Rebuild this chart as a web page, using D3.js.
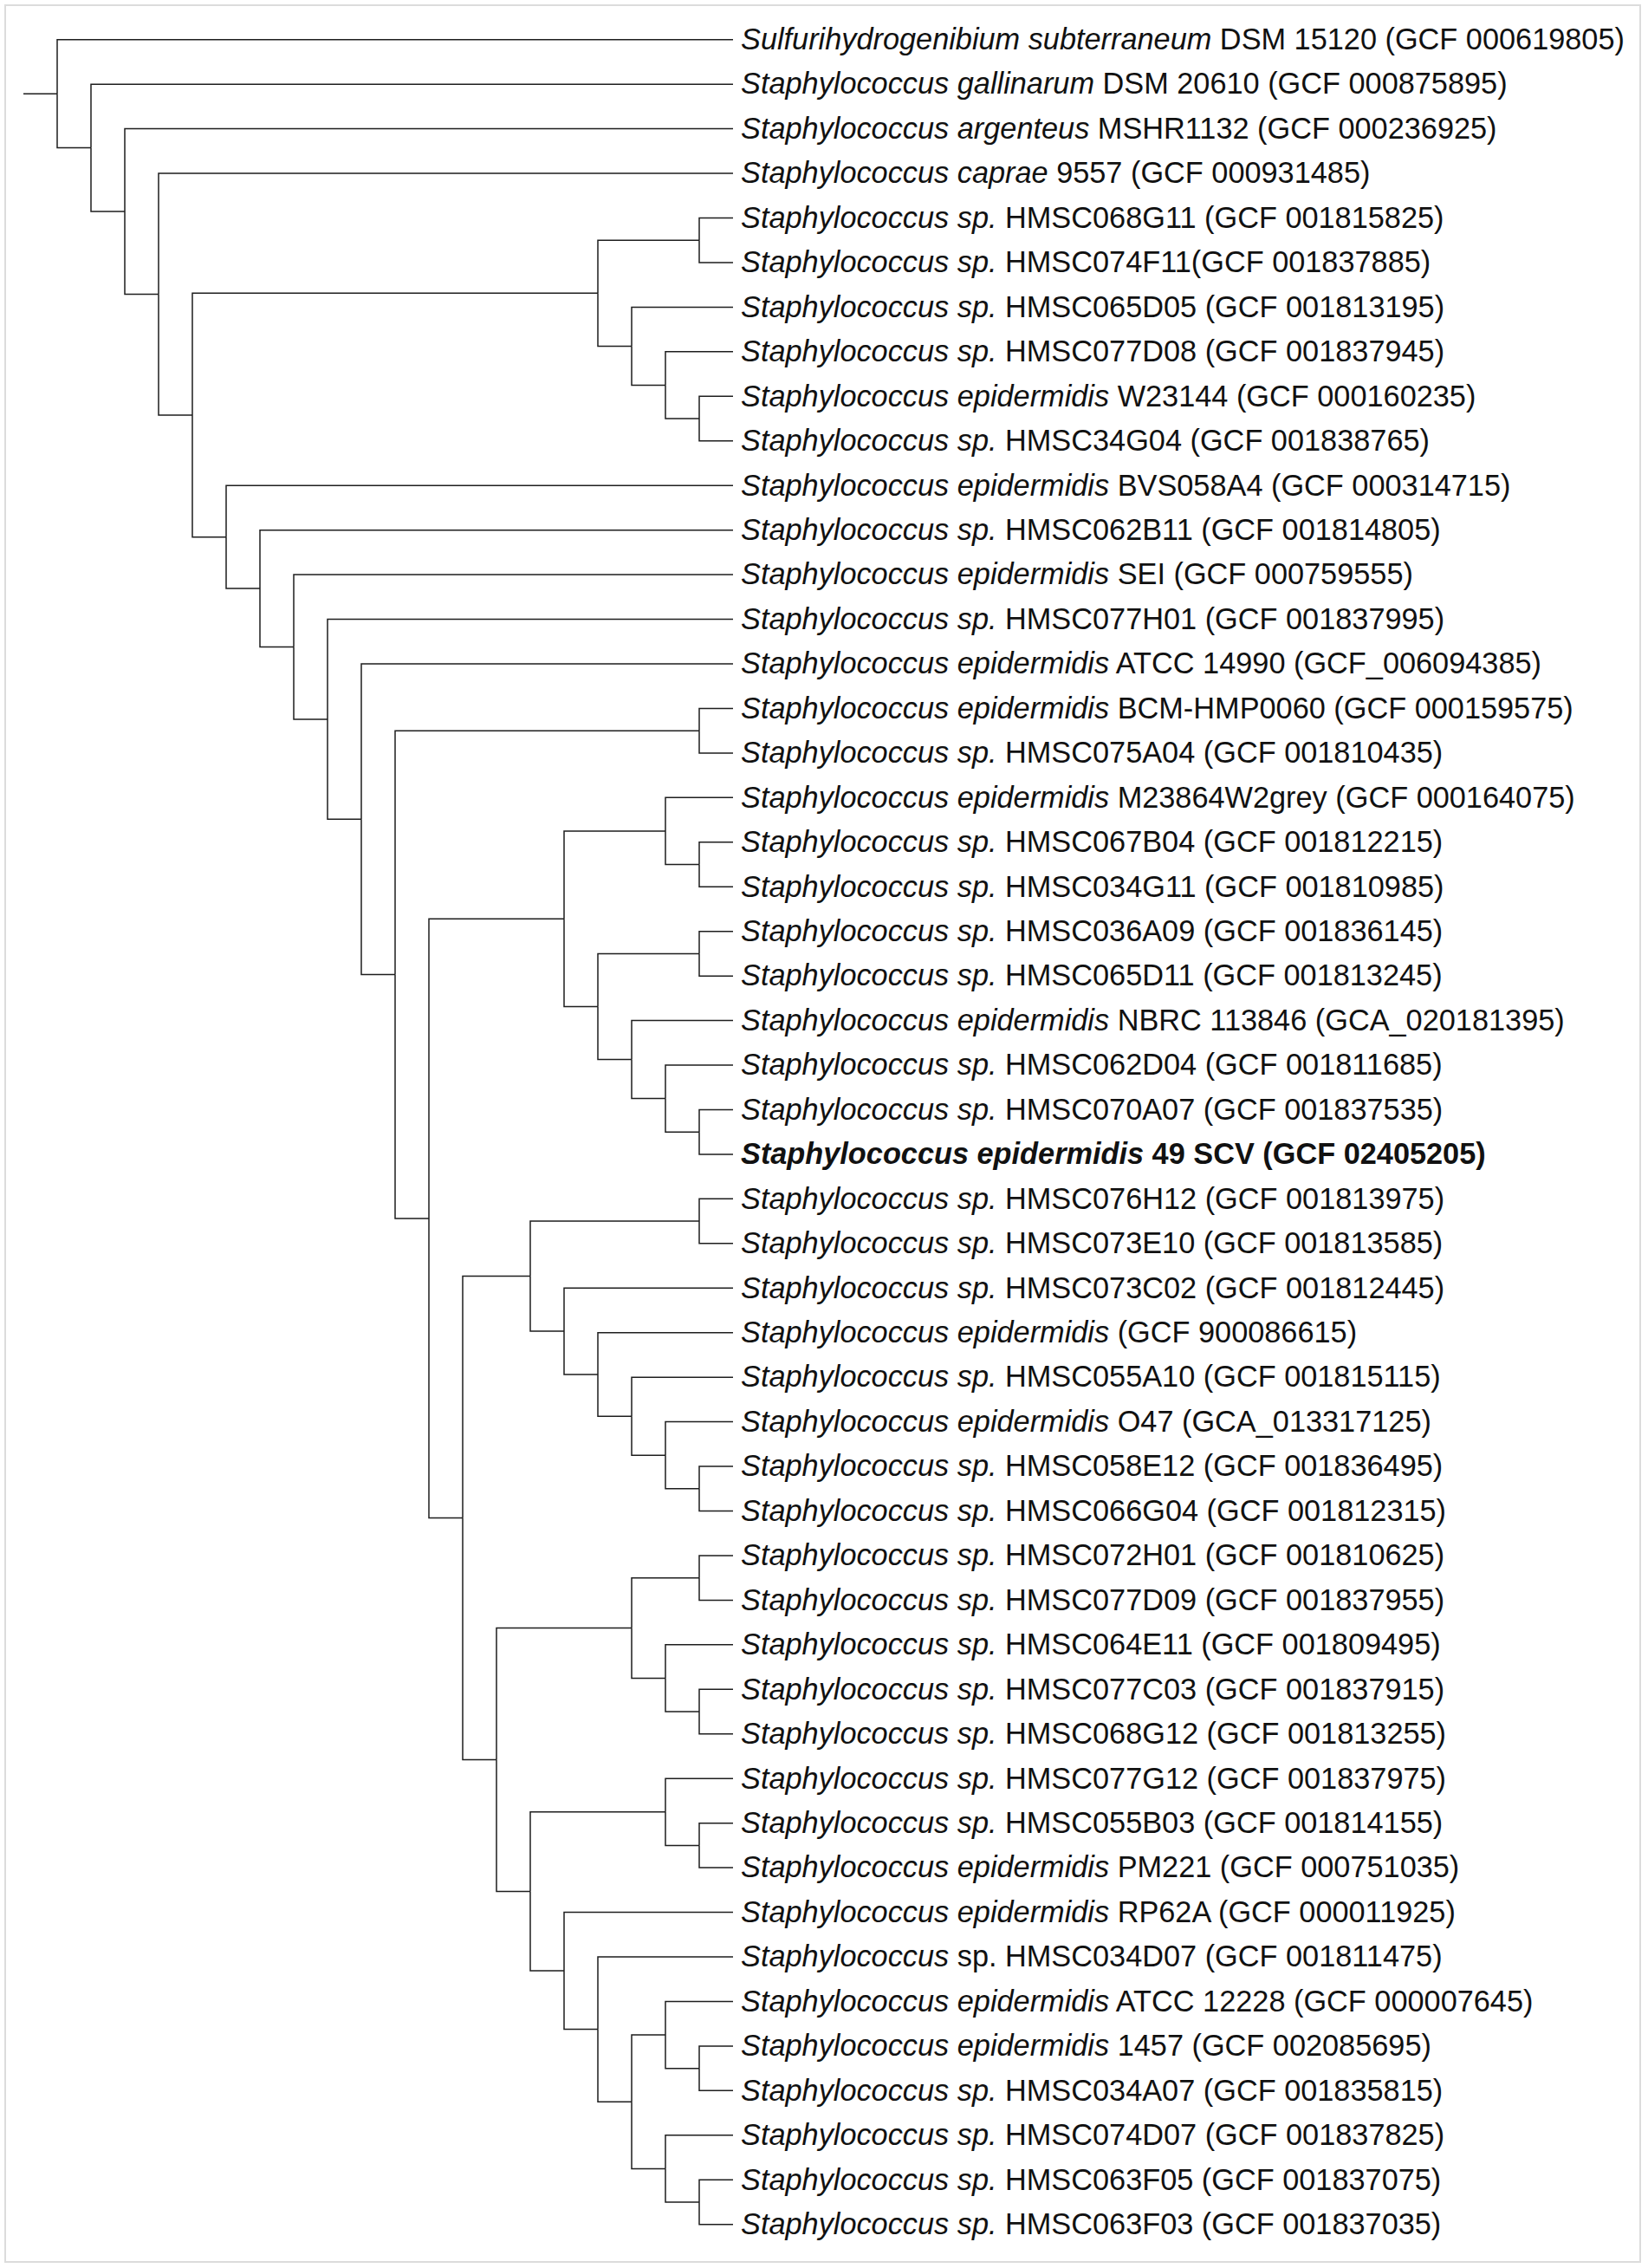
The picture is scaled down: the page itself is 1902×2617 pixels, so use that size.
<!DOCTYPE html>
<html>
<head>
<meta charset="utf-8">
<script src="https://cdn.jsdelivr.net/npm/d3@7"></script>
<style>
  body { margin: 0; background: #fff; }
  .branch { fill: none; stroke: #1e1e1e; stroke-width: 1.5; }
  .leaf-label { font-family: "Liberation Sans", Arial, sans-serif; font-size: 34.3px; fill: #111; white-space: pre; }
</style>
</head>
<body>
<div id="chart"></div>
<script>
// italic part of each taxon label (genus + species), in leaf order
const italicNames = [
  'Sulfurihydrogenibium subterraneum',
  'Staphylococcus gallinarum',
  'Staphylococcus argenteus',
  'Staphylococcus caprae',
  'Staphylococcus sp.',
  'Staphylococcus sp.',
  'Staphylococcus sp.',
  'Staphylococcus sp.',
  'Staphylococcus epidermidis',
  'Staphylococcus sp.',
  'Staphylococcus epidermidis',
  'Staphylococcus sp.',
  'Staphylococcus epidermidis',
  'Staphylococcus sp.',
  'Staphylococcus epidermidis',
  'Staphylococcus epidermidis',
  'Staphylococcus sp.',
  'Staphylococcus epidermidis',
  'Staphylococcus sp.',
  'Staphylococcus sp.',
  'Staphylococcus sp.',
  'Staphylococcus sp.',
  'Staphylococcus epidermidis',
  'Staphylococcus sp.',
  'Staphylococcus sp.',
  'Staphylococcus epidermidis',
  'Staphylococcus sp.',
  'Staphylococcus sp.',
  'Staphylococcus sp.',
  'Staphylococcus epidermidis',
  'Staphylococcus sp.',
  'Staphylococcus epidermidis',
  'Staphylococcus sp.',
  'Staphylococcus sp.',
  'Staphylococcus sp.',
  'Staphylococcus sp.',
  'Staphylococcus sp.',
  'Staphylococcus sp.',
  'Staphylococcus sp.',
  'Staphylococcus sp.',
  'Staphylococcus sp.',
  'Staphylococcus epidermidis',
  'Staphylococcus epidermidis',
  'Staphylococcus',
  'Staphylococcus epidermidis',
  'Staphylococcus epidermidis',
  'Staphylococcus sp.',
  'Staphylococcus sp.',
  'Staphylococcus sp.',
  'Staphylococcus sp.'
];

// upright part of each label (strain + assembly accession)
const strainNames = [
  'DSM 15120 (GCF 000619805)',
  'DSM 20610 (GCF 000875895)',
  'MSHR1132 (GCF 000236925)',
  '9557 (GCF 000931485)',
  'HMSC068G11 (GCF 001815825)',
  'HMSC074F11(GCF 001837885)',
  'HMSC065D05 (GCF 001813195)',
  'HMSC077D08 (GCF 001837945)',
  'W23144 (GCF 000160235)',
  'HMSC34G04 (GCF 001838765)',
  'BVS058A4 (GCF 000314715)',
  'HMSC062B11 (GCF 001814805)',
  'SEI (GCF 000759555)',
  'HMSC077H01 (GCF 001837995)',
  'ATCC 14990 (GCF_006094385)',
  'BCM-HMP0060 (GCF 000159575)',
  'HMSC075A04 (GCF 001810435)',
  'M23864W2grey (GCF 000164075)',
  'HMSC067B04 (GCF 001812215)',
  'HMSC034G11 (GCF 001810985)',
  'HMSC036A09 (GCF 001836145)',
  'HMSC065D11 (GCF 001813245)',
  'NBRC 113846 (GCA_020181395)',
  'HMSC062D04 (GCF 001811685)',
  'HMSC070A07 (GCF 001837535)',
  '49 SCV (GCF 02405205)',
  'HMSC076H12 (GCF 001813975)',
  'HMSC073E10 (GCF 001813585)',
  'HMSC073C02 (GCF 001812445)',
  '(GCF 900086615)',
  'HMSC055A10 (GCF 001815115)',
  'O47 (GCA_013317125)',
  'HMSC058E12 (GCF 001836495)',
  'HMSC066G04 (GCF 001812315)',
  'HMSC072H01 (GCF 001810625)',
  'HMSC077D09 (GCF 001837955)',
  'HMSC064E11 (GCF 001809495)',
  'HMSC077C03 (GCF 001837915)',
  'HMSC068G12 (GCF 001813255)',
  'HMSC077G12 (GCF 001837975)',
  'HMSC055B03 (GCF 001814155)',
  'PM221 (GCF 000751035)',
  'RP62A (GCF 000011925)',
  'sp. HMSC034D07 (GCF 001811475)',
  'ATCC 12228 (GCF 000007645)',
  '1457 (GCF 002085695)',
  'HMSC034A07 (GCF 001835815)',
  'HMSC074D07 (GCF 001837825)',
  'HMSC063F05 (GCF 001837075)',
  'HMSC063F03 (GCF 001837035)'
];

// the strain of this study, printed in bold
const boldLeaves = [25];

// tree topology as nested arrays of leaf indices
const cladeE = [[4, 5], [6, [7, [8, 9]]]];
const cladeM = [[17, [18, 19]], [[20, 21], [22, [23, [24, 25]]]]];
const cladeR = [[26, 27], [28, [29, [30, [31, [32, 33]]]]]];
const cladeX = [[34, 35], [36, [37, 38]]];
const cladeY = [[39, [40, 41]], [42, [43, [[44, [45, 46]], [47, [48, 49]]]]]];
const cladeK = [[15, 16], [cladeM, [cladeR, [cladeX, cladeY]]]];
const cladeF = [10, [11, [12, [13, [14, cladeK]]]]];
const topology = [0, [1, [2, [3, [cladeE, cladeF]]]]];

const width = 1902;
const height = 2617;

const svg = d3.select('#chart').append('svg')
    .attr('width', width)
    .attr('height', height);

// frame
svg.append('rect')
    .attr('x', 6)
    .attr('y', 6)
    .attr('width', 1887)
    .attr('height', 2604)
    .attr('fill', 'none')
    .attr('stroke', '#dcdcdc')
    .attr('stroke-width', 2);

const root = d3.hierarchy(topology, d => Array.isArray(d) ? d : null);
const maxHeight = root.height + 1; // one extra step for the root stub

// cladogram: x by node height (leaves aligned), y by leaf order
const xScale = d3.scaleLinear()
    .domain([0, maxHeight])
    .range([846, 27]);

const yScale = d3.scaleLinear()
    .domain([0, strainNames.length - 1])
    .range([45.7, 2566.7]);

root.eachAfter(node => {
    node.px = xScale(node.height);
    if (node.children) {
        const first = node.children[0];
        const last = node.children[node.children.length - 1];
        node.py = (first.py + last.py) / 2;
    } else {
        node.py = yScale(node.data);
    }
});

const g = svg.append('g');

g.selectAll('.branch')
    .data(root.links())
    .join('path')
    .attr('class', 'branch')
    .attr('d', d => 'M' + d.source.px + ',' + d.source.py +
        'V' + d.target.py + 'H' + d.target.px);

// root stub
g.append('path')
    .attr('class', 'branch')
    .attr('d', 'M' + xScale(maxHeight) + ',' + root.py + 'H' + root.px);

const labels = g.selectAll('.leaf-label')
    .data(root.leaves())
    .join('text')
    .attr('class', 'leaf-label')
    .attr('x', d => d.px + 9)
    .attr('y', d => d.py)
    .attr('dy', '0.33em')
    .attr('font-weight', d => boldLeaves.includes(d.data) ? 'bold' : null);

labels.append('tspan')
    .attr('font-style', 'italic')
    .text(d => italicNames[d.data]);

labels.append('tspan')
    .text(d => ' ' + strainNames[d.data]);
</script>
</body>
</html>
